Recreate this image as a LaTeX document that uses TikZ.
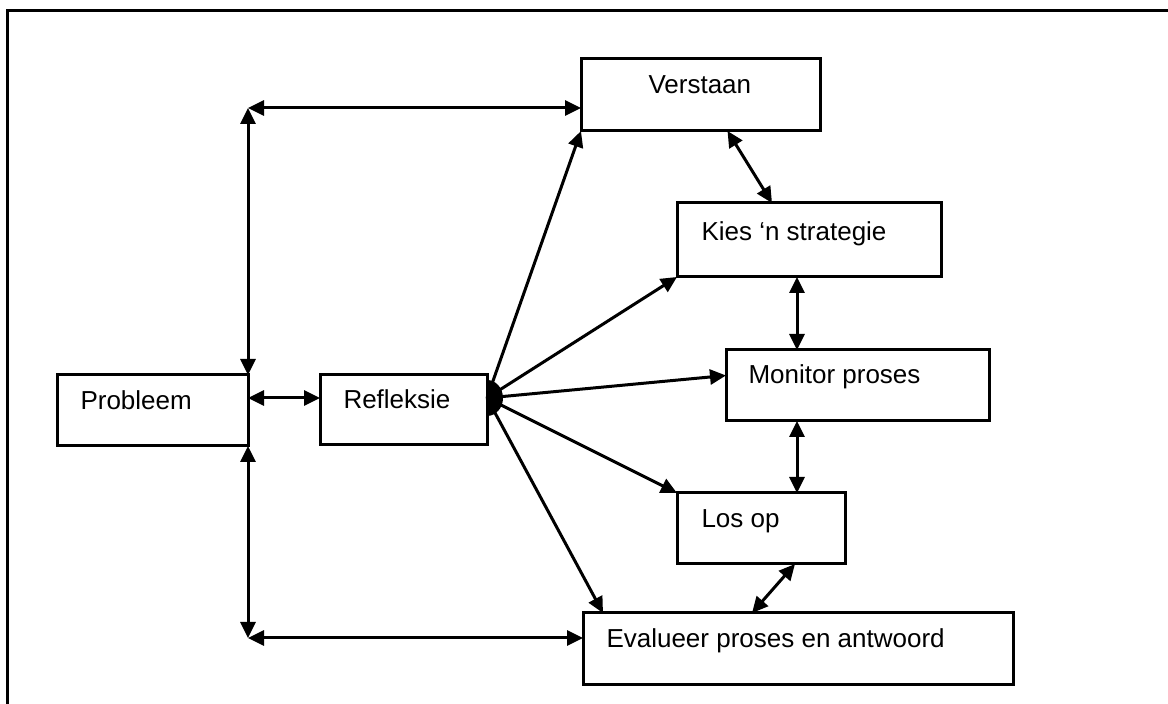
\documentclass[tikz,border=0pt]{standalone}
\usepackage{fontspec}
\setmainfont{Liberation Sans}
\usetikzlibrary{arrows.meta,calc}
\begin{document}
\begin{tikzpicture}[x=0.5pt,y=-0.5pt,
  line width=1.5pt,
  box/.style={draw,rectangle,inner sep=0pt,outer sep=0pt},
  lbl/.style={anchor=base west,inner sep=0pt,font=\fontsize{13}{15}\selectfont},
  tip/.style={-{Triangle[length=8pt,width=7.5pt]}},
  both/.style={{Triangle[length=8pt,width=7.5pt]}-{Triangle[length=8pt,width=7.5pt]}}]
\useasboundingbox (0,0) rectangle (1168,704);
% outer frame (top and left edges)
\draw (7,704) -- (7,11) -- (1168,11);

% boxes
\node[box,minimum width=95.5pt,minimum height=35.5pt] (prob) at (152.5,410.5) {};
\node[box,minimum width=83.5pt,minimum height=35pt]   (refl) at (403.5,410) {};
\node[box,minimum width=119.5pt,minimum height=36pt]  (vers) at (700.5,95) {};
\node[box,minimum width=132pt,minimum height=37pt]    (kies) at (809,240) {};
\node[box,minimum width=131.5pt,minimum height=35.5pt] (mon) at (857.5,385.5) {};
\node[box,minimum width=84pt,minimum height=35.5pt]   (los)  at (761,528.5) {};
\node[box,minimum width=215pt,minimum height=36pt]    (eval) at (798,649) {};

% labels
\node[lbl] (tprob) at (79,410) {Probleem};
\node[lbl] (trefl) at (342,409) {Refleksie};
\node[lbl] (tvers) at (647,94) {Verstaan};
\node[lbl] (tkies) at (700,241) {Kies ‘n strategie};
\node[lbl] (tmon)  at (747,384) {Monitor proses};
\node[lbl] (tlos)  at (700,528) {Los op};
\node[lbl] (teval) at (605,648) {Evalueer proses en antwoord};

% helper coordinates
\coordinate (T) at (248,108);
\coordinate (B) at (248,638);
\coordinate (hub) at (487,398);
\coordinate (xm) at (797,0);

% left trunk
\draw[both] (prob.north east) -- (T);
\draw[both] (T) -- (T -| vers.west);
\draw[both] (prob.south east) -- (B);
\draw[both] (B) -- (B -| eval.west);
\draw[both] (prob.east |- hub) -- (refl.west |- hub);

% fan out of Refleksie
\fill (hub) ++(0,-18) arc[start angle=90,end angle=-90,x radius=8pt,y radius=9pt] -- cycle;
\draw[tip] (hub) -- (vers.south west);
\draw[tip] (hub) -- (kies.south west);
\draw[tip] (hub) -- ($(mon.west)+(0,-10)$);
\draw[tip] (hub) -- (los.north west);
\draw[tip] (hub) -- ($(eval.north west)+(20,0)$);

% links between the steps
\draw[both] ($(vers.south)+(27,0)$) -- ($(kies.north)+(-37,0)$);
\draw[both] (kies.south -| xm) -- (mon.north -| xm);
\draw[both] (mon.south -| xm) -- (los.north -| xm);
\draw[both] ($(los.south)+(34,0)$) -- ($(eval.north)+(-46,0)$);
\end{tikzpicture}
\end{document}
